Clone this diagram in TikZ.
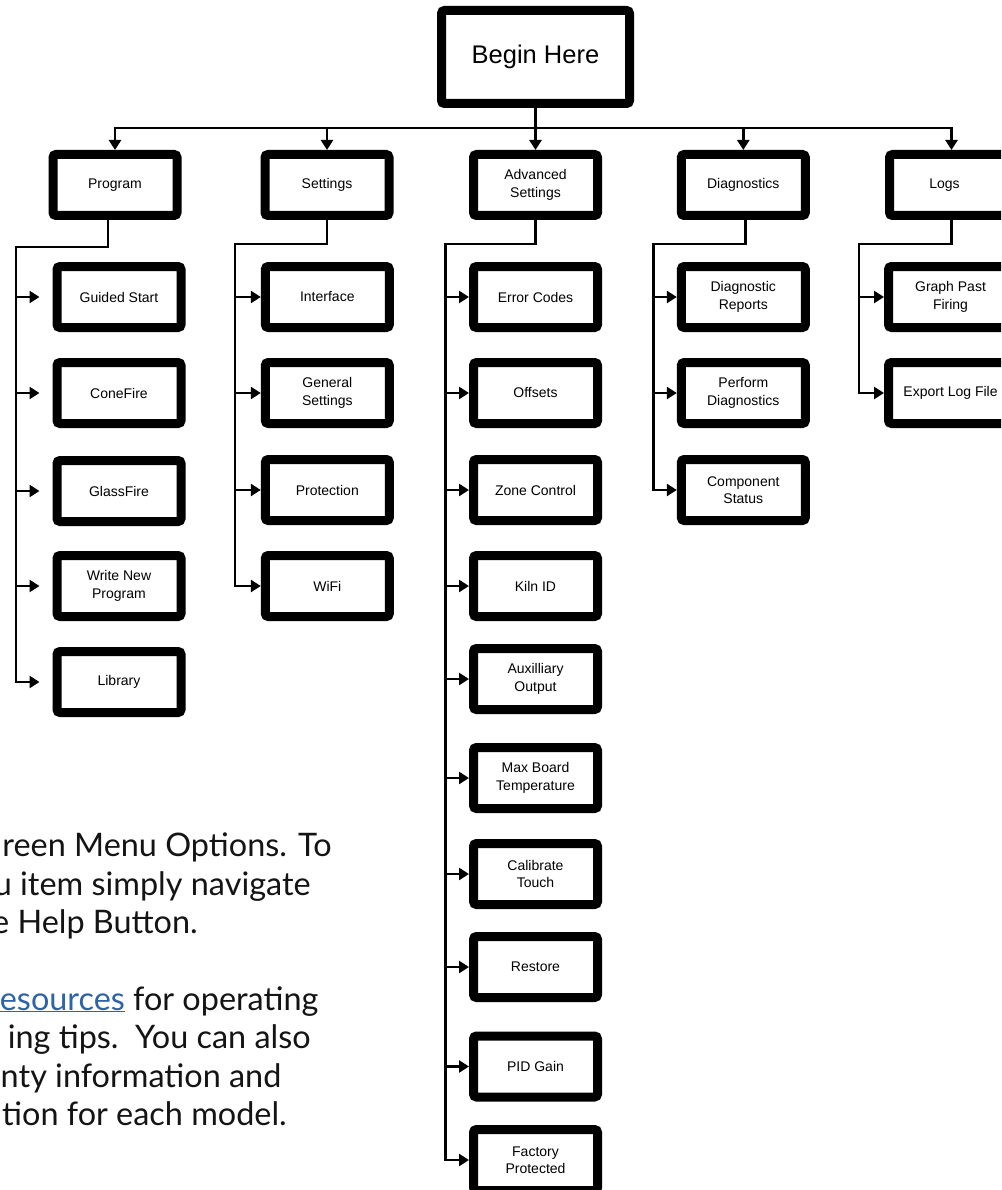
\documentclass[tikz,border=0pt]{standalone}
\usepackage{fontspec}
\setmainfont{Liberation Sans}
\newfontfamily\parafont{Lato}
\usetikzlibrary{arrows.meta}
\definecolor{linkblue}{RGB}{46,99,168}
\begin{document}
\begin{tikzpicture}[x=1pt,y=-1pt,
 box/.style={draw=black, line width=9pt, rounded corners=3pt, minimum width=124pt, minimum height=61pt, inner sep=0pt, align=center, font=\fontsize{14}{17.3}\selectfont, fill=white},
 bigbox/.style={box, minimum width=188pt, minimum height=93pt, font=\fontsize{25.5}{30}\selectfont},
 conn/.style={line width=2.6pt, -{Triangle[length=10pt,width=12pt]}},
 para/.style={anchor=base west, inner sep=0pt, font=\parafont\fontsize{32.4}{38}\selectfont, text=black!92}]
\useasboundingbox (0,0) rectangle (1001,1190);
\clip (0,0) rectangle (1001,1190);
\fill[white] (0,0) rectangle (1001,1190);

% top
\node[bigbox] (begin) at (535.5,57) {Begin Here};
\node[box] (prog) at (115,185) {Program};
\node[box] (sett) at (327,185) {Settings};
\node[box] (adv) at (535.5,185) {Advanced\\Settings};
\node[box] (diag) at (743.3,185) {Diagnostics};
\node[box] (logs) at (951.5,185) {Logs\hspace*{14pt}};

% program children
\node[box] (gs) at (119,297) {Guided Start};
\node[box] (cf) at (119,393) {ConeFire};
\node[box] (gf) at (119,491) {GlassFire};
\node[box] (wnp) at (119,586) {Write New\\Program};
\node[box] (lib) at (119,682) {Library};

% settings children
\node[box] (intf) at (327.3,297) {Interface};
\node[box] (gen) at (327.3,393) {General\\Settings};
\node[box] (prot) at (327.3,490) {Protection};
\node[box] (wifi) at (327.3,586) {WiFi};

% advanced children
\node[box] (ec) at (535.5,297) {Error Codes};
\node[box] (off) at (535.5,393) {Offsets};
\node[box] (zc) at (535.5,490) {Zone Control};
\node[box] (kiln) at (535.5,586) {Kiln ID};
\node[box] (aux) at (535.5,679) {Auxilliary\\Output};
\node[box] (mbt) at (535.5,778) {Max Board\\Temperature};
\node[box] (cal) at (535.5,874) {Calibrate\\Touch};
\node[box] (rest) at (535.5,967) {Restore};
\node[box] (pid) at (535.5,1066.5) {PID Gain};
\node[box] (fact) at (535.5,1160) {Factory\\Protected};

% diagnostics children
\node[box] (drep) at (743.3,297) {Diagnostic\\Reports};
\node[box] (pdiag) at (743.3,393) {Perform\\Diagnostics};
\node[box] (comp) at (743.3,490) {Component\\Status};

% logs children
\node[box] (gpf) at (950.5,297) {Graph Past\\Firing};
\node[box] (exp) at (950.5,393) {Export Log File};

% top connectors
\coordinate (bus) at (535.5,128);
\foreach \n in {prog,sett,adv,diag,logs}
  \draw[conn] (begin.south) -- (bus) -| (\n.north);

% junctions
\coordinate (pj) at (16,247);
\coordinate (sj) at (235,244);
\coordinate (aj) at (445.5,244);
\coordinate (dj) at (653.3,244);
\coordinate (lj) at (859,244);

\foreach \c in {gs,cf,gf,wnp,lib}
  \draw[conn] ([xshift=-7pt]prog.south) |- (pj) |- ([xshift=-13pt]\c.west);
\foreach \c in {intf,gen,prot,wifi}
  \draw[conn] (sett.south) |- (sj) |- (\c.west);
\foreach \c in {ec,off,zc,kiln,aux,mbt,cal,rest,pid,fact}
  \draw[conn] (adv.south) |- (aj) |- (\c.west);
\foreach \c in {drep,pdiag,comp}
  \draw[conn] ([xshift=2pt]diag.south) |- (dj) |- (\c.west);
\foreach \c in {gpf,exp}
  \draw[conn] (logs.south) |- (lj) |- (\c.west);

% paragraph
\node[para] (t1) at (74,856.7) {\llap{reen }Menu Options. To};
\node[para] (t2) at (20,895) {\llap{u }item simply navigate};
\node[para] (t3) at (17.3,933.3) {\llap{e }Help Button.};
\node[para] (t4) at (133,1010) {\llap{\textcolor{linkblue}{\underline{esources}} }for operating};
\node[para] (t5) at (135,1048) {\llap{ing tips.\ \ }You can also};
\node[para] (t6) at (55,1087) {\llap{nty }information and};
\node[para] (t7) at (66.7,1125) {\llap{tion }for each model.};
\end{tikzpicture}
\end{document}
